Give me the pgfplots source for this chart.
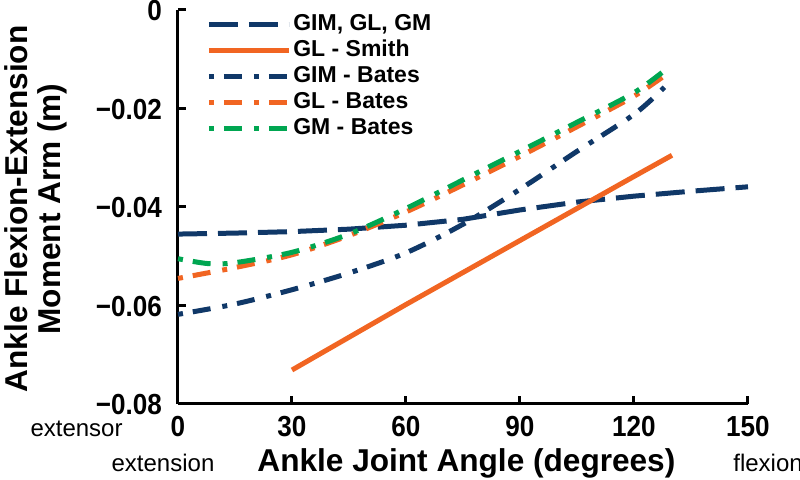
\documentclass[border=0pt]{standalone}
\usepackage{fontspec}
\setmainfont{Liberation Sans}
\newfontfamily\tickfont[FakeStretch=0.9]{Liberation Sans}
\usepackage{pgfplots}
\pgfplotsset{compat=1.18}
\definecolor{navy}{RGB}{16,56,104}
\definecolor{orng}{RGB}{241,101,34}
\definecolor{grn}{RGB}{0,166,81}
\newcommand\tl[1]{{\tickfont\fontsize{14.5}{15}\selectfont\bfseries #1}}
\begin{document}
\begin{tikzpicture}
\path[use as bounding box] (-89pt,-38pt) rectangle (311pt,202pt);
\begin{axis}[
  scale only axis, width=285pt, height=197pt,
  xmin=0, xmax=150, ymin=-0.08, ymax=0,
  axis x line*=bottom, axis y line*=left,
  axis line style={line width=1.5pt, black},
  scaled y ticks=false, scaled x ticks=false,
  xtick={0,30,60,90,120,150},
  xticklabels={\tl{0},\tl{30},\tl{60},\tl{90},\tl{120},\tl{150}},
  ytick={-0.08,-0.06,-0.04,-0.02,0},
  yticklabels={\tl{−0.08},\tl{−0.06},\tl{−0.04},\tl{−0.02},\tl{0}},
  xticklabel style={anchor=base, yshift=-16.5pt},
  yticklabel style={anchor=base east, xshift=-4.5pt, yshift=-5.5pt},
  tick align=inside, major tick length=4pt,
  tick style={line width=1.5pt, black},
  xlabel={Ankle Joint Angle (degrees)},
  xlabel style={font=\fontsize{15.8}{18}\selectfont\bfseries, at={(axis description cs:0.506,0)}, anchor=base, yshift=-34pt},
  ylabel={Ankle Flexion-Extension\\Moment Arm (m)},
  ylabel style={font=\fontsize{15.8}{16.5}\selectfont\bfseries, align=center, at={(axis description cs:-0.249,0.495)}, anchor=center},
  legend style={at={(axis description cs:0.049,0.996)}, anchor=north west, draw=none, fill=none,
    font=\fontsize{11.5}{13}\selectfont\bfseries, row sep=0pt, inner sep=0pt,
    nodes={inner sep=1pt, text height=8.5pt, text depth=2.5pt}},
  legend cell align=left,
  legend image code/.code={\draw[#1] (0pt,0pt) -- (40pt,0pt);},
  clip=false,
]
\addplot[navy, line width=2.5pt, dash pattern=on 14.5pt off 5.5pt] coordinates {
 (0,-0.0455) (15,-0.0453) (30,-0.0450) (45,-0.0445) (60,-0.0437) (75,-0.0425)
 (90,-0.0406) (105,-0.0390) (120,-0.0378) (135,-0.0368) (150,-0.0359)};
\addlegendentry{GIM, GL, GM}
\addplot[orng, line width=2.5pt] coordinates {
 (30,-0.0731) (60,-0.0598) (90,-0.0468) (105,-0.0403) (120,-0.0338) (130,-0.0295)};
\addlegendentry{GL - Smith}
\addplot[navy, line width=2.5pt, smooth, dash pattern=on 2.5pt off 5pt on 9pt off 6pt] coordinates {
 (0,-0.0618) (15,-0.0597) (30,-0.0568) (45,-0.0534) (60,-0.0493) (75,-0.0435)
 (90,-0.0364) (105,-0.0287) (120,-0.0212) (128,-0.0157)};
\addlegendentry{GIM - Bates}
\addplot[orng, line width=2.5pt, smooth, dash pattern=on 2.5pt off 5pt on 9pt off 6pt] coordinates {
 (0,-0.0545) (15,-0.0523) (30,-0.0497) (45,-0.0458) (60,-0.0410) (75,-0.0355)
 (90,-0.0297) (105,-0.0237) (120,-0.0175) (129,-0.0128)};
\addlegendentry{GL - Bates}
\addplot[grn, line width=2.5pt, smooth, dash pattern=on 2.5pt off 5pt on 9pt off 6pt] coordinates {
 (0,-0.0505) (8,-0.0515) (15,-0.0513) (30,-0.0492) (45,-0.0455) (60,-0.0403)
 (75,-0.0345) (90,-0.0287) (105,-0.0228) (120,-0.0168) (129,-0.0117)};
\addlegendentry{GM - Bates}
\end{axis}
\node[anchor=base east, inner sep=0pt, font=\fontsize{12}{13}\selectfont] at (-27.5pt,-16.5pt) {extensor};
\node[anchor=base, inner sep=0pt, font=\fontsize{12}{13}\selectfont] at (-7.5pt,-34pt) {extension};
\node[anchor=base west, inner sep=0pt, font=\fontsize{12}{13}\selectfont] at (277.5pt,-34pt) {flexion};
\end{tikzpicture}
\end{document}
